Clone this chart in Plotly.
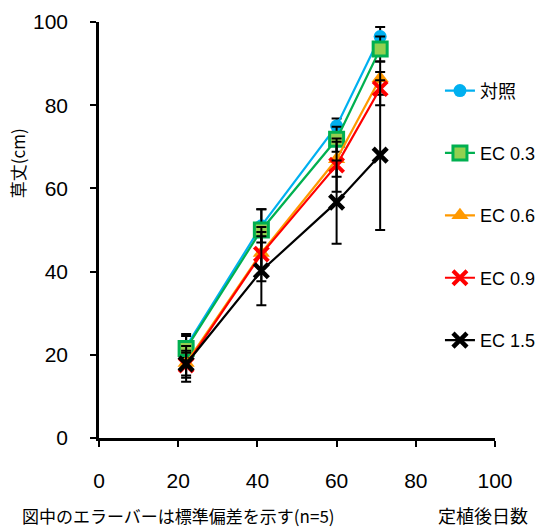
import plotly.graph_objects as go

# Days after planting
days = [22, 41, 60, 71]

# Plant height (cm): mean and standard deviation, n=5
series_names = ["対照", "EC 0.3", "EC 0.6", "EC 0.9", "EC 1.5"]
height_control = [22.0, 51.0, 75.0, 96.5]
sd_control = [2.5, 4.0, 1.8, 2.3]
height_ec03 = [21.5, 50.0, 71.8, 93.5]
sd_ec03 = [3.5, 5.0, 3.0, 3.0]
height_ec06 = [18.0, 44.5, 67.0, 86.5]
sd_ec06 = [3.0, 5.0, 4.2, 4.0]
height_ec09 = [17.5, 44.2, 65.6, 84.0]
sd_ec09 = [3.0, 6.5, 6.4, 4.0]
height_ec15 = [17.8, 40.2, 56.7, 68.0]
sd_ec15 = [4.3, 8.3, 10.0, 18.0]

x_ticks = [0, 20, 40, 60, 80, 100]
y_ticks = [0, 20, 40, 60, 80, 100]

FONT = "Liberation Sans, Noto Sans CJK JP, sans-serif"
JP_FONT = "Noto Sans CJK JP, sans-serif"

styles = [
    dict(color="#00B0F0", marker=dict(symbol="circle", size=13, color="#00B0F0",
                                       line=dict(width=0))),
    dict(color="#00B050", marker=dict(symbol="square", size=14, color="#92D050",
                                       line=dict(color="#00B050", width=3))),
    dict(color="#FF9900", marker=dict(symbol="triangle-up", size=15, color="#FF9900",
                                       line=dict(width=0))),
    dict(color="#FF0000", marker=dict(symbol="x-thin-open", size=14,
                                       line=dict(color="#FF0000", width=4))),
    dict(color="#000000", marker=dict(symbol="x-thin-open", size=14,
                                       line=dict(color="#000000", width=4.5))),
]

means = [height_control, height_ec03, height_ec06, height_ec09, height_ec15]
sds = [sd_control, sd_ec03, sd_ec06, sd_ec09, sd_ec15]

fig = go.Figure()
for i, (name, y, sd, st) in enumerate(zip(series_names, means, sds, styles)):
    fig.add_trace(go.Scatter(
        x=days, y=y, name=name, mode="lines+markers",
        line=dict(color=st["color"], width=2.2),
        marker=st["marker"],
        error_y=dict(type="data", array=sd, visible=True,
                     color="#000000", thickness=2, width=5),
        legendgroup=f"g{i}",
    ))

axis_common = dict(
    showgrid=False, zeroline=False, showline=True,
    linecolor="#000000", linewidth=2.5,
    ticks="outside", ticklen=6, tickwidth=2, tickcolor="#000000",
    tickfont=dict(family=FONT, size=21, color="#000000"),
)

fig.update_xaxes(range=[0, 100], tickvals=x_ticks, ticklabelstandoff=16,
                 **axis_common)
fig.update_yaxes(range=[0, 100], tickvals=y_ticks, ticklabelstandoff=18,
                 **axis_common)

fig.update_layout(
    width=539, height=528,
    margin=dict(l=99, r=44, t=22, b=90, autoexpand=False),
    plot_bgcolor="white", paper_bgcolor="white",
    showlegend=True,
    legend=dict(
        x=0.861, y=0.879, xanchor="left", yanchor="top",
        bgcolor="rgba(0,0,0,0)",
        font=dict(family=FONT, size=18, color="#000000"),
        tracegroupgap=36, itemwidth=30,
    ),
    annotations=[
        dict(text="草丈(cm)", xref="paper", yref="paper",
             x=-0.205, y=0.66, xanchor="center", yanchor="middle",
             textangle=-90, showarrow=False,
             font=dict(family=JP_FONT, size=17, color="#000000")),
        dict(text="図中のエラーバーは標準偏差を示す(n=5)", xref="paper", yref="paper",
             x=-0.2, y=-0.186, xanchor="left", yanchor="middle", showarrow=False,
             font=dict(family=JP_FONT, size=17, color="#000000")),
        dict(text="定植後日数", xref="paper", yref="paper",
             x=1.088, y=-0.186, xanchor="right", yanchor="middle", showarrow=False,
             font=dict(family=JP_FONT, size=18, color="#000000")),
    ],
)

fig.write_html("out.html")
